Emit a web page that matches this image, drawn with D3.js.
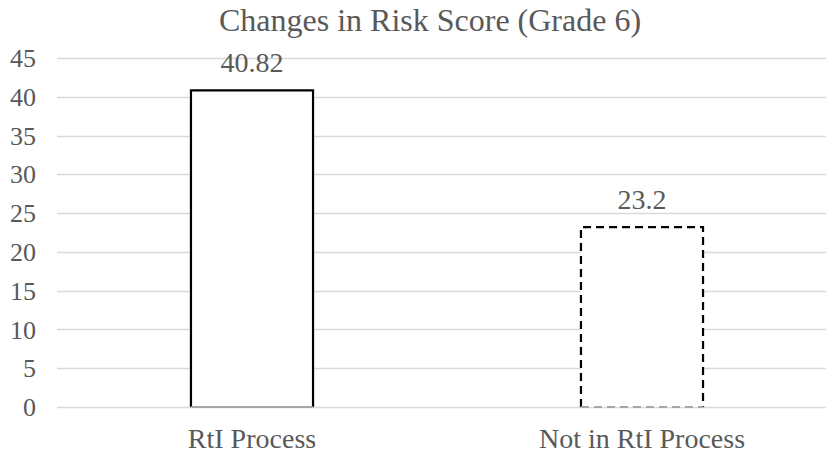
<!DOCTYPE html>
<html>
<head>
<meta charset="utf-8">
<script src="https://cdn.jsdelivr.net/npm/d3@7"></script>
</head>
<body style="margin:0;background:#fff">
<svg id="chart" width="826" height="455" font-family="Liberation Serif" style="display:block"></svg>
<script>
const title = "Changes in Risk Score (Grade 6)";
const categories = ["RtI Process", "Not in RtI Process"];
const values = [40.82, 23.2];
const valueLabels = ["40.82", "23.2"];
const dashed = [false, true];
const yTicks = [0, 5, 10, 15, 20, 25, 30, 35, 40, 45];

const FONT = "Liberation Serif";
const TXT = "#595959";
const svg = d3.select("#chart");

const x = d3.scaleBand().domain(categories).range([57, 837])
  .paddingInner(0.687).paddingOuter(0.3435);
const y = d3.scaleLinear().domain([0, 45]).range([407, 58]);

// gridlines
svg.append("g").selectAll("line").data(yTicks).join("line")
  .attr("x1", 57).attr("x2", 837)
  .attr("y1", d => Math.round(y(d)) + 0.5).attr("y2", d => Math.round(y(d)) + 0.5)
  .attr("stroke", "#d9d9d9").attr("stroke-width", 1.3);

// y axis labels
const yAxis = d3.axisLeft(y).tickValues(yTicks).tickSize(0).tickPadding(0);
const gy = svg.append("g").attr("transform", "translate(36,0)").call(yAxis)
  .attr("font-family", FONT).attr("font-size", 26);
gy.select(".domain").remove();
gy.selectAll("text").attr("fill", TXT).attr("dy", "0.33em");

// bars
const bars = svg.append("g").selectAll("g").data(categories).join("g");
bars.append("rect")
  .attr("x", d => x(d)).attr("y", (d, i) => y(values[i]))
  .attr("width", x.bandwidth()).attr("height", (d, i) => y(0) - y(values[i]))
  .attr("fill", "#fff").attr("stroke", "none");
bars.append("path")
  .attr("d", (d, i) => {
    const x0 = x(d), x1 = x(d) + x.bandwidth(), yt = y(values[i]), yb = y(0);
    return `M${x0},${yb}L${x0},${yt}L${x1},${yt}L${x1},${yb}`;
  })
  .attr("fill", "none").attr("stroke", "#000").attr("stroke-width", 2.2)
  .attr("stroke-dasharray", (d, i) => dashed[i] ? "8,5" : null);
bars.append("line")
  .attr("x1", d => x(d)).attr("x2", d => x(d) + x.bandwidth())
  .attr("y1", y(0)).attr("y2", y(0))
  .attr("stroke", "#a6a6a6").attr("stroke-width", 2)
  .attr("stroke-dasharray", (d, i) => dashed[i] ? "8,5" : null);

// value labels
bars.append("text")
  .attr("x", d => x(d) + x.bandwidth() / 2)
  .attr("y", (d, i) => y(values[i]) - 18)
  .attr("text-anchor", "middle")
  .attr("font-family", FONT).attr("font-size", 28).attr("fill", TXT)
  .text((d, i) => valueLabels[i]);

// category labels
const xAxis = d3.axisBottom(x).tickSize(0).tickPadding(0);
const gx = svg.append("g").attr("transform", "translate(0,448)").call(xAxis)
  .attr("font-family", FONT).attr("font-size", 28);
gx.select(".domain").remove();
gx.selectAll("text").attr("fill", TXT).attr("dy", 0);

// title
svg.append("text").attr("x", 430).attr("y", 31).attr("text-anchor", "middle")
  .attr("font-family", FONT).attr("font-size", 32).attr("fill", TXT)
  .text(title);
</script>
</body>
</html>
